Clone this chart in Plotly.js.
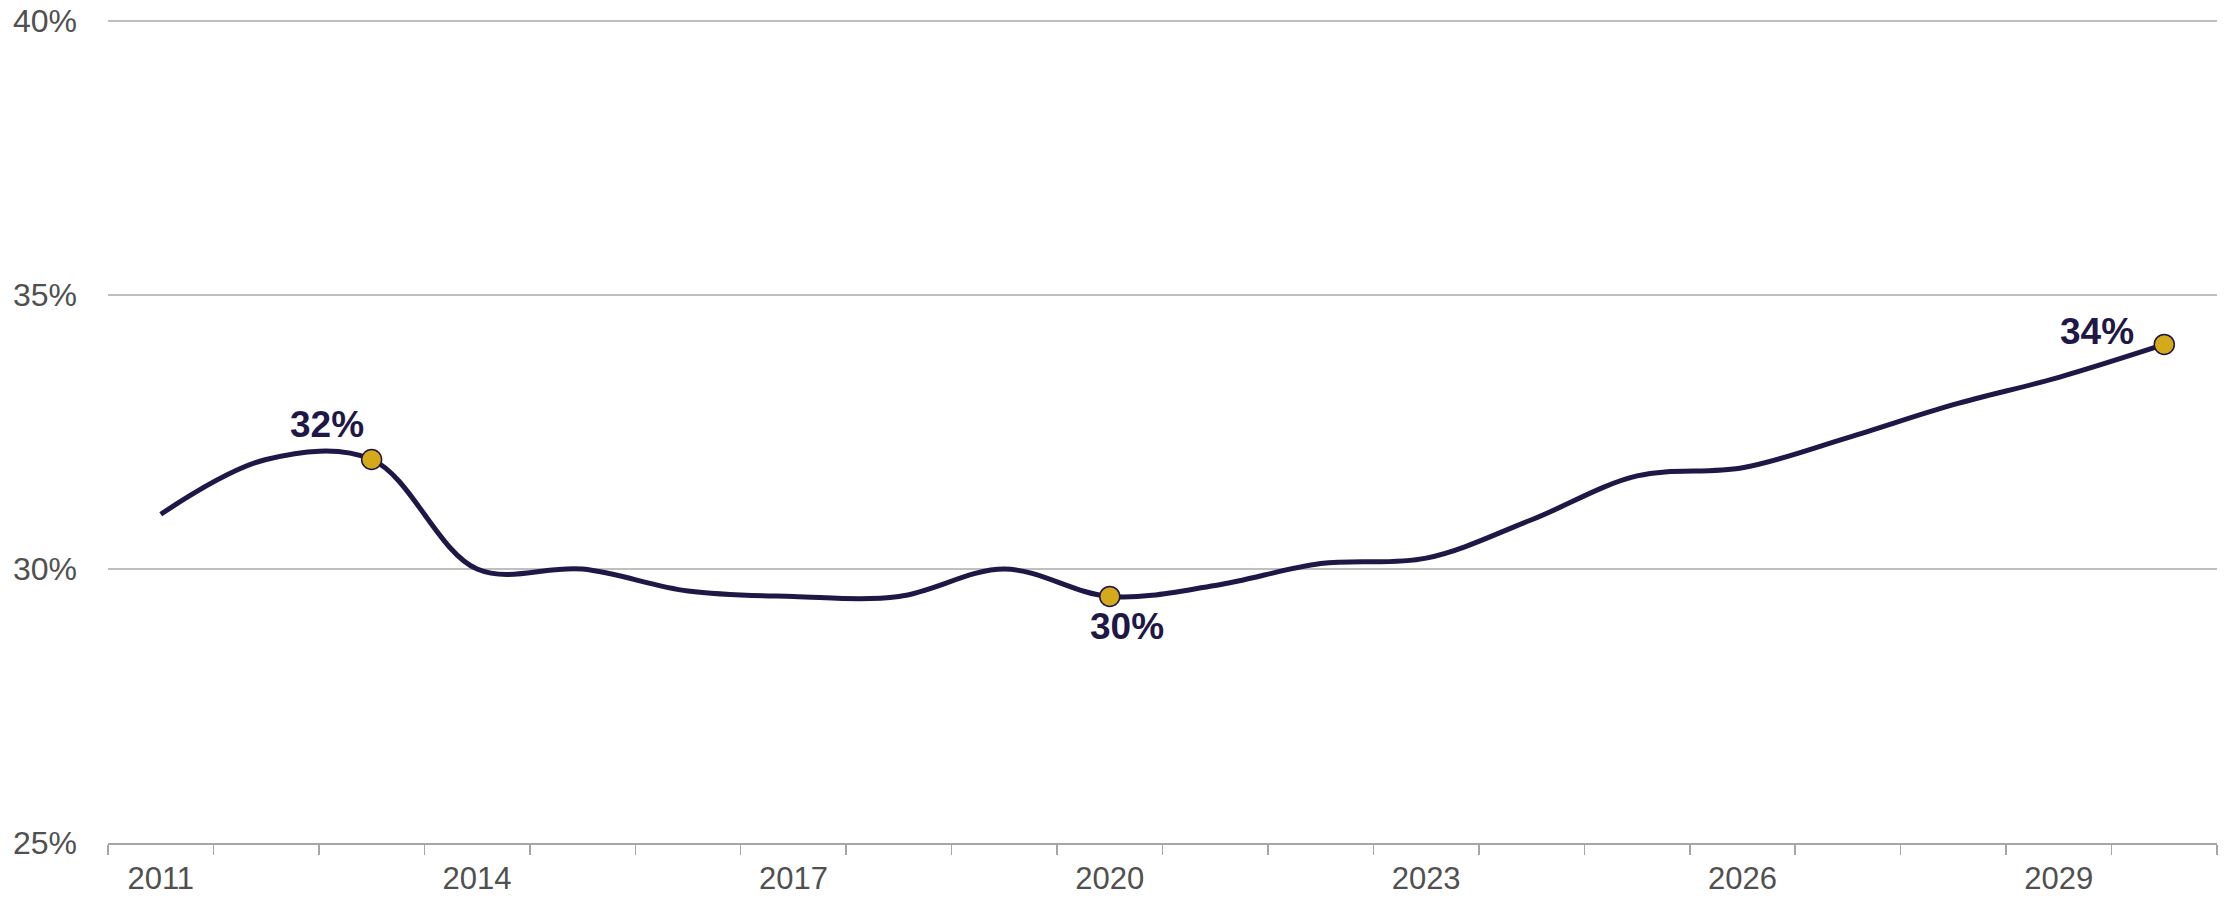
<!DOCTYPE html>
<html>
<head>
<meta charset="utf-8">
<script src="https://cdn.plot.ly/plotly-3.0.1.min.js"></script>
<style>
  html, body { margin: 0; padding: 0; background: #fff; }
  #chart { width: 2234px; height: 898px; }
</style>
</head>
<body>
<div id="chart"></div>
<script>
// ---- data ----
const years = [2011, 2012, 2013, 2014, 2015, 2016, 2017, 2018, 2019, 2020,
               2021, 2022, 2023, 2024, 2025, 2026, 2027, 2028, 2029, 2030];
const share = [31.0, 32.0, 32.0, 30.0, 30.0, 29.6, 29.5, 29.5, 30.0, 29.5,
               29.7, 30.1, 30.2, 30.9, 31.7, 31.85, 32.4, 33.0, 33.5, 34.1];
const highlightYears = [2013, 2020, 2030];
const xTickYears = [2011, 2014, 2017, 2020, 2023, 2026, 2029];
const xTickLabels = ['2011', '2014', '2017', '2020', '2023', '2026', '2029'];
const yTickValues = [25, 30, 35, 40];
const yTickLabels = ['25%', '30%', '35%', '40%'];

// ---- derived ----
const hlValues = highlightYears.map(y => share[years.indexOf(y)]);
const hlText = hlValues.map(v => Math.round(v) + '%');

const NAVY = '#1f1746';
const GOLD = '#d4a91a';
const GREY_TEXT = '#505050';

// label offsets (pixels) relative to each highlighted marker
const labelStyle = [
  {xanchor: 'center', yanchor: 'middle', xshift: -45, yshift: 35},
  {xanchor: 'center', yanchor: 'middle', xshift: 17, yshift: -30},
  {xanchor: 'center', yanchor: 'middle', xshift: -67, yshift: 13}
];

const traces = [
  {
    x: years, y: share, type: 'scatter', mode: 'lines',
    line: {color: NAVY, width: 5, shape: 'spline', smoothing: 1},
    hoverinfo: 'skip', showlegend: false, cliponaxis: false
  },
  {
    x: highlightYears, y: hlValues, type: 'scatter', mode: 'markers',
    marker: {color: GOLD, size: 20, line: {color: NAVY, width: 1.5}},
    hoverinfo: 'skip', showlegend: false, cliponaxis: false
  }
];

const annotations = highlightYears.map((yr, i) => Object.assign({
  x: yr, y: hlValues[i], xref: 'x', yref: 'y',
  text: '<b>' + hlText[i] + '</b>', showarrow: false,
  font: {family: 'Liberation Sans, Arial, sans-serif', size: 37, color: NAVY}
}, labelStyle[i]));

const layout = {
  width: 2234, height: 898,
  margin: {l: 108, r: 17, t: 19, b: 55, pad: 0},
  paper_bgcolor: '#fff', plot_bgcolor: '#fff',
  font: {family: 'Liberation Sans, Arial, sans-serif', size: 31, color: GREY_TEXT},
  showlegend: false,
  xaxis: {
    type: 'linear', range: [2010.5, 2030.5],
    tickmode: 'array', tickvals: xTickYears, ticktext: xTickLabels,
    ticks: '', showgrid: false, zeroline: false,
    showline: true, linecolor: '#a6a6a6', linewidth: 2,
    ticklabelstandoff: 7,
    tickfont: {size: 31, color: GREY_TEXT},
    minor: {tickmode: 'linear', tick0: 2010.5, dtick: 1, ticks: 'outside',
            ticklen: 10, tickwidth: 1.5, tickcolor: '#a6a6a6', showgrid: false}
  },
  yaxis: {
    range: [25, 40.04],
    tickmode: 'array', tickvals: yTickValues, ticktext: yTickLabels,
    ticks: '', showline: false, zeroline: false,
    showgrid: true, gridcolor: '#bfbfbf', gridwidth: 1.5,
    ticklabelstandoff: 30,
    tickfont: {size: 32, color: GREY_TEXT}
  },
  annotations: annotations
};

Plotly.newPlot('chart', traces, layout, {staticPlot: true, displayModeBar: false});
</script>
</body>
</html>
